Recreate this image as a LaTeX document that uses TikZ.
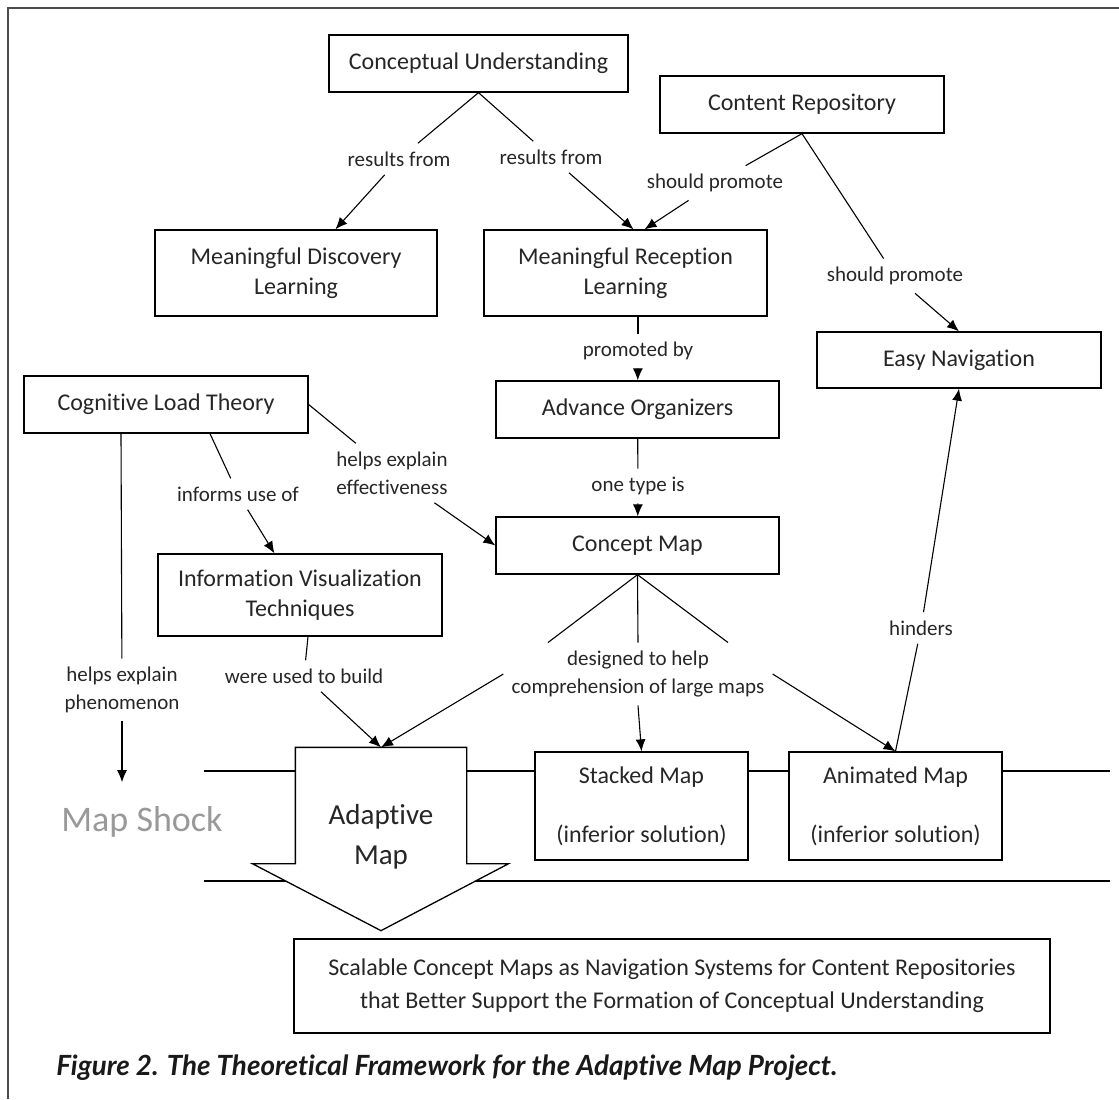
\documentclass[tikz,border=0pt]{standalone}
\usepackage{fontspec}
\setmainfont{Carlito}[Ligatures=NoCommon]
\newfontfamily\capfont{Lato}[Ligatures=NoCommon]
\usetikzlibrary{arrows.meta,calc}

\tikzset{
  concept/.style={draw, fill=white, line width=0.65pt, align=center, inner sep=0pt, text=black!85, font=\fontsize{12}{15}\selectfont},
  link/.style={align=center, inner sep=4pt, text=black!85, font=\fontsize{10.5}{14}\selectfont},
  conn/.style={line width=0.55pt},
  >={Latex[length=6pt,width=5pt]}
}

\begin{document}
\begin{tikzpicture}[x=0.5pt,y=-0.5pt]
    \useasboundingbox (0,0) rectangle (1119,1099);
    \draw[black!70, line width=0.6pt] (8,1099) -- (8,8) -- (1119,8);
    
    \draw[conn] (204,771) -- (1110,771);
    \draw[conn] (204,881) -- (1110,881);
    
    \node[concept, minimum width=149.5pt, minimum height=28.5pt] (cu) at (478.5,63.5) {Conceptual Understanding};
    \node[concept, minimum width=142pt, minimum height=28.5pt] (cr) at (802,104.5) {Content Repository};
    \node[concept, minimum width=141pt, minimum height=43pt] (mdl) at (296,273) {Meaningful Discovery\\Learning};
    \node[concept, minimum width=141.5pt, minimum height=43pt] (mrl) at (625.5,273) {Meaningful Reception\\Learning};
    \node[concept, minimum width=142pt, minimum height=28pt] (en) at (959,360) {Easy Navigation};
    \node[concept, minimum width=142pt, minimum height=28.5pt] (clt) at (166,404.5) {Cognitive Load Theory};
    \node[concept, minimum width=141.5pt, minimum height=28.5pt] (ao) at (637.5,409.5) {Advance Organizers};
    \node[concept, minimum width=141.5pt, minimum height=28.5pt] (cm) at (637.5,545.5) {Concept Map};
    \node[concept, minimum width=142pt, minimum height=41pt] (ivt) at (300,595) {Information Visualization\\Techniques};
    \node[concept, minimum width=106.5pt, minimum height=54pt] (sm) at (641.5,806) {Stacked Map\\[14.6pt](inferior solution)};
    \node[concept, minimum width=106.5pt, minimum height=54pt] (anm) at (895.5,806) {Animated Map\\[14.6pt](inferior solution)};
    \node[concept, minimum width=378pt, minimum height=47pt, font=\fontsize{12}{16.5}\selectfont] (fin) at (672,986) {Scalable Concept Maps as Navigation Systems for Content Repositories\\that Better Support the Formation of Conceptual Understanding};
    
    % adaptive map arrow
    \node[concept, draw=none, fill=none, minimum width=85pt, minimum height=57.5pt] (am) at (381,805.5) {};
    \draw[line width=0.65pt, fill=white] (am.north west) -- (am.north east) -- (am.south east) -- ++(21pt,0)
        -- ($(am.south)+(0,-33.5pt)$) -- ($(am.south west)+(-21.5pt,0)$) -- (am.south west) -- cycle;
    \node[concept, draw=none, fill=none, font=\fontsize{14.5}{20}\selectfont] (amlbl) at (381,837) {Adaptive\\Map};
    
    \node[link, text=black!40, inner sep=12pt, font=\fontsize{18}{20}\selectfont] (ms) at (142,822) {Map Shock};
    
    \node[link] (rf1) at (399,159) {results from};
    \node[link] (rf2) at (551,157) {results from};
    \node[link] (sp1) at (715,183) {should promote};
    \node[link] (sp2) at (895,276) {should promote};
    \node[link] (pb) at (638,351) {promoted by};
    \node[link] (ot) at (638,486) {one type is};
    \node[link] (he) at (392,473) {helps explain\\effectiveness};
    \node[link] (iu) at (238,494) {informs use of};
    \node[link] (hp) at (122,690) {helps explain\\phenomenon};
    \node[link] (wu) at (304,676) {were used to build};
    \node[link] (dh) at (638,674) {designed to help\\comprehension of large maps};
    \node[link] (hi) at (921,628) {hinders};
    
    \draw[conn] (cu.south) -- (rf1);
    \draw[conn,->] (rf1) -- (mdl);
    \draw[conn] (cu.south) -- (rf2);
    \draw[conn,->] (rf2) -- ([xshift=4pt]mrl.north);
    \draw[conn] (cr.south) -- (sp1);
    \draw[conn,->] (sp1) -- ([xshift=9.5pt]mrl.north);
    \draw[conn] (cr.south) -- (sp2);
    \draw[conn,->] (sp2) -- (en.north);
    \draw[conn] (mrl.south -| pb) -- (pb);
    \draw[conn,->] (pb) -- (ao);
    \draw[conn] (ao) -- (ot);
    \draw[conn,->] (ot) -- (cm);
    \draw[conn] (clt.east) -- (he);
    \draw[conn,->] (he) -- (cm.west);
    \draw[conn] ([xshift=22pt]clt.south) -- (iu);
    \draw[conn,->] (iu) -- (ivt);
    \draw[conn] ([xshift=-22.5pt]clt.south) -- (hp);
    \draw[conn,->] (hp) -- (hp |- ms.north);
    \draw[conn] ([xshift=4pt]ivt.south) -- (wu);
    \draw[conn,->] (wu) -- (am.north);
    \draw[conn] (cm.south) -- ([xshift=-45pt]dh.north);
    \draw[conn] (cm.south) -- (dh.north);
    \draw[conn] (cm.south) -- ([xshift=45pt]dh.north);
    \draw[conn,->] (dh.west) -- (am.north);
    \draw[conn,->] (dh.south) -- (sm.north);
    \draw[conn,->] (dh.east) -- (anm.north);
    \draw[conn] (anm.north) -- (hi);
    \draw[conn,->] (hi) -- (en.south);
    
    \node[anchor=west, inner sep=0pt, text=black!90, font={\capfont\fontsize{13.9}{16}\selectfont\bfseries\itshape}] (cap) at (56,1068) {Figure 2. The Theoretical Framework for the Adaptive Map Project.};
\end{tikzpicture}
\end{document}
